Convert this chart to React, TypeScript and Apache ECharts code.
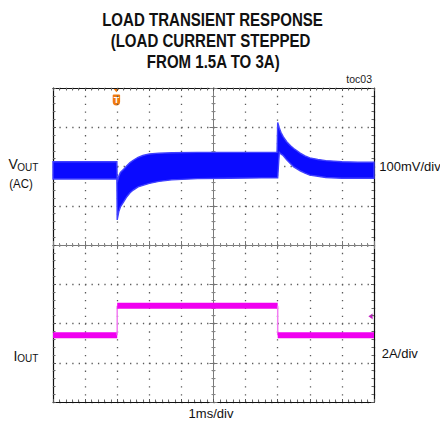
import React, { useEffect, useRef } from 'react';
import * as echarts from 'echarts';

// ---- Data ----
// Time axis in ms (1 ms/div, 10 divisions)
const vTime = [0, 1.99, 2.0, 2.05, 2.1, 2.2, 2.3, 2.4, 2.5, 2.65, 2.8, 3.0, 3.3, 3.7, 4.5, 5.5, 6.5, 6.98, 7.0, 7.05, 7.1, 7.17, 7.28, 7.4, 7.5, 7.6, 7.7, 7.85, 8.0, 8.25, 8.5, 9.0, 9.5, 10];
// VOUT (AC) noise envelope in mV (100 mV/div)
const vUpper = [22, 22, -30, -15, -5, 3, 12, 20, 26, 33, 38, 42, 44, 45, 46, 46, 46, 46, 122, 108, 97, 86, 73, 63, 56, 50, 44, 37, 32, 28, 25, 22, 21, 21];
const vLower = [-22, -22, -126, -105, -93, -80, -67, -57, -50, -42, -38, -33, -28, -24, -21, -20, -19, -19, -19, 46, 42, 38, 27, 17, 9, 4, -1, -7, -12, -15, -18, -20, -20, -20];
// IOUT in A (2 A/div)
const iTime = [0, 2, 2, 7, 7, 10];
const iAmp = [1.5, 1.5, 3, 3, 1.5, 1.5];

const titleLines = ['LOAD TRANSIENT RESPONSE', '(LOAD CURRENT STEPPED', 'FROM 1.5A TO 3A)'];
const xScaleLabel = '1ms/div';
const vScaleLabel = '100mV/div';
const iScaleLabel = '2A/div';
const figId = 'toc03';

const BLUE = '#0a0aff';
const MAGENTA = '#f000f0';
const ORANGE = '#f07a10';
const FONT = '"Liberation Sans", Arial, sans-serif';
const DOT = '#5a5a5a';

export default function App() {
  const ref = useRef<HTMLDivElement>(null);

  useEffect(() => {
    const chart = echarts.init(ref.current!, null, { renderer: 'svg' });

    const frameLine = { show: true, onZero: false, lineStyle: { color: '#111', width: 1.2 } };
    const tickIn = { show: true, inside: true, length: 3, lineStyle: { color: '#555', width: 1 } };
    const minor = { show: true, splitNumber: 5, length: 2.5, lineStyle: { color: '#666', width: 1 } };
    const centerLine = (idx: number) => ({ show: true, onZero: true, onZeroAxisIndex: idx, lineStyle: { color: '#7a7a7a', width: 1 } });
    const cTick = (inside: boolean) => ({ show: true, inside, length: 4, lineStyle: { color: '#777', width: 1 } });
    const cMinor = { show: true, splitNumber: 5, length: 2, lineStyle: { color: '#888', width: 1 } };
    const noLabel = { show: false };

    const xBase = { type: 'value', min: 0, max: 10, interval: 1, axisLabel: noLabel };
    const yBase = { type: 'value', min: -4, max: 4, interval: 1, axisLabel: noLabel };

    const option: any = {
      animation: false,
      backgroundColor: '#fff',
      grid: { left: 53, top: 88, width: 321, height: 314, containLabel: false },
      xAxis: [
        { ...xBase, position: 'bottom', axisLine: frameLine, axisTick: tickIn, minorTick: minor,
          splitLine: { show: true, lineStyle: { color: DOT, width: 1.3, type: [1.3, 6.55] } } },
        { ...xBase, position: 'top', axisLine: frameLine, axisTick: tickIn, minorTick: minor, splitLine: { show: false } },
        { ...xBase, position: 'bottom', axisLine: centerLine(0), axisTick: cTick(true), minorTick: cMinor, splitLine: { show: false } },
        { ...xBase, position: 'bottom', axisLine: centerLine(0), axisTick: cTick(false), minorTick: cMinor, splitLine: { show: false } },
        { type: 'value', min: -5, max: 5, show: false, position: 'bottom', axisLine: { onZero: false } },
      ],
      yAxis: [
        { ...yBase, position: 'left', axisLine: frameLine, axisTick: tickIn, minorTick: minor,
          splitLine: { show: true, lineStyle: { color: DOT, width: 1.3, type: [1.3, 5.12] } } },
        { ...yBase, position: 'right', axisLine: frameLine, axisTick: tickIn, minorTick: minor, splitLine: { show: false } },
        { ...yBase, position: 'left', axisLine: centerLine(4), axisTick: cTick(true), minorTick: cMinor, splitLine: { show: false } },
        { ...yBase, position: 'left', axisLine: centerLine(4), axisTick: cTick(false), minorTick: cMinor, splitLine: { show: false } },
        { type: 'value', min: -590, max: 210, show: false, axisLine: { onZero: false }, splitLine: { show: false } },
        { type: 'value', min: -1.9, max: 14.1, show: false, axisLine: { onZero: false }, splitLine: { show: false } },
      ],
      series: [
        {
          name: 'VOUT', type: 'custom', xAxisIndex: 0, yAxisIndex: 4, data: [[0, 0]], silent: true, z: 5,
          renderItem: (_p: any, api: any) => {
            const pts: number[][] = [];
            for (let i = 0; i < vTime.length; i++) pts.push(api.coord([vTime[i], vUpper[i]]));
            for (let i = vTime.length - 1; i >= 0; i--) pts.push(api.coord([vTime[i], vLower[i]]));
            return { type: 'polygon', shape: { points: pts }, style: { fill: BLUE, stroke: '#4040ff', lineWidth: 1.4 } };
          },
        },
        {
          name: 'IOUT', type: 'custom', xAxisIndex: 0, yAxisIndex: 5, data: [[0, 0]], silent: true, z: 5,
          renderItem: (_p: any, api: any) => {
            const children: any[] = [];
            for (let i = 0; i < iTime.length - 1; i++) {
              const a = api.coord([iTime[i], iAmp[i]]);
              const b = api.coord([iTime[i + 1], iAmp[i + 1]]);
              if (iAmp[i] === iAmp[i + 1]) {
                children.push({ type: 'rect', shape: { x: a[0], y: a[1] - 3, width: b[0] - a[0], height: 6 }, style: { fill: MAGENTA } });
              } else {
                children.push({ type: 'line', shape: { x1: a[0], y1: a[1], x2: b[0], y2: b[1] }, style: { stroke: '#f27cf2', lineWidth: 1.5 } });
              }
            }
            return { type: 'group', children };
          },
        },
      ],
      graphic: [
        ...titleLines.map((t, i) => ({
          type: 'text', x: [212.5, 210.5, 213.3][i], y: [19.7, 40.2, 61.7][i], scaleX: 0.86,
          style: { text: t, fontSize: 17.5, fontWeight: 'bold', fontFamily: FONT, fill: '#111',
            align: 'center', verticalAlign: 'middle', textAlign: 'center', textVerticalAlign: 'middle' },
        })),
        { type: 'text', x: 372, y: 79, style: { text: figId, fontSize: 10.5, fontFamily: FONT, fill: '#222',
          align: 'right', verticalAlign: 'middle', textAlign: 'right', textVerticalAlign: 'middle' } },
        // VOUT label
        { type: 'text', x: 8.5, y: 164.3, style: { text: 'V', fontSize: 14, fontFamily: FONT, fill: '#111', align: 'left', verticalAlign: 'middle', textAlign: 'left', textVerticalAlign: 'middle' } },
        { type: 'text', x: 17.3, y: 167, style: { text: 'OUT', fontSize: 10, fontFamily: FONT, fill: '#111', align: 'left', verticalAlign: 'middle', textAlign: 'left', textVerticalAlign: 'middle' } },
        { type: 'text', x: 9.3, y: 184, scaleX: 0.88, style: { text: '(AC)', fontSize: 13, fontFamily: FONT, fill: '#111', align: 'left', verticalAlign: 'middle', textAlign: 'left', textVerticalAlign: 'middle' } },
        // IOUT label
        { type: 'text', x: 13.5, y: 355.5, style: { text: 'I', fontSize: 14, fontFamily: FONT, fill: '#111', align: 'left', verticalAlign: 'middle', textAlign: 'left', textVerticalAlign: 'middle' } },
        { type: 'text', x: 17.3, y: 358, style: { text: 'OUT', fontSize: 10, fontFamily: FONT, fill: '#111', align: 'left', verticalAlign: 'middle', textAlign: 'left', textVerticalAlign: 'middle' } },
        // scale labels
        { type: 'text', x: 379.3, y: 166, style: { text: vScaleLabel, fontSize: 13, fontFamily: FONT, fill: '#111', align: 'left', verticalAlign: 'middle', textAlign: 'left', textVerticalAlign: 'middle' } },
        { type: 'text', x: 381.7, y: 353, style: { text: iScaleLabel, fontSize: 13, fontFamily: FONT, fill: '#111', align: 'left', verticalAlign: 'middle', textAlign: 'left', textVerticalAlign: 'middle' } },
        { type: 'text', x: 211, y: 413, style: { text: xScaleLabel, fontSize: 13, fontFamily: FONT, fill: '#111', align: 'center', verticalAlign: 'middle', textAlign: 'center', textVerticalAlign: 'middle' } },
        // trigger marker
        { type: 'polygon', shape: { points: [[113.3, 88.5], [119.5, 88.5], [116.4, 92.3]] }, style: { fill: ORANGE } },
        { type: 'rect', shape: { x: 112.7, y: 94.5, width: 7.4, height: 11, r: [1, 1, 3.7, 3.7] }, style: { fill: ORANGE } },
        { type: 'text', x: 116.4, y: 100.3, style: { text: 'T', fontSize: 9, fontWeight: 'bold', fontFamily: FONT, fill: '#fff', align: 'center', verticalAlign: 'middle', textAlign: 'center', textVerticalAlign: 'middle' } },
        // channel 2 reference marker
        { type: 'polygon', shape: { points: [[368.4, 316.3], [372.6, 313.4], [372.6, 319.2]] }, style: { fill: '#c020c0' } },
      ],
    };

    chart.setOption(option);
    return () => chart.dispose();
  }, []);

  return (
    <div
      ref={ref}
      style={{ position: 'fixed', left: 0, top: 0, width: 440, height: 423, background: '#fff' }}
    />
  );
}
